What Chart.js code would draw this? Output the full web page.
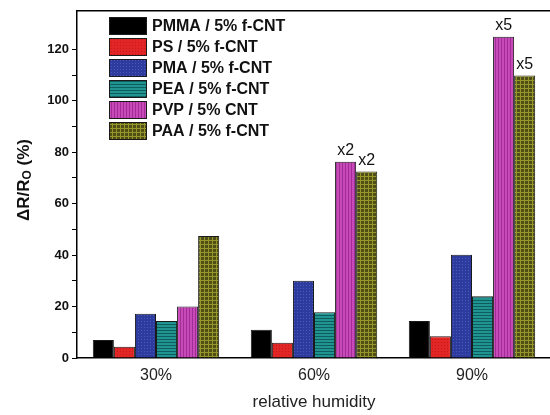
<!DOCTYPE html>
<html>
<head>
<meta charset="utf-8">
<script src="https://cdn.jsdelivr.net/npm/chart.js@4.4.0/dist/chart.umd.min.js"></script>
<style>
html,body{margin:0;padding:0;background:#fff;overflow:hidden;width:550px;height:415px;}
#chart{display:block;}
</style>
</head>
<body>
<canvas id="chart" width="560" height="415"></canvas>
<script>
var humidity = ['30%', '60%', '90%'];
var pmma = [7.0, 11.0, 14.4];
var ps = [4.4, 5.9, 8.5];
var pma = [17.2, 30.0, 40.1];
var pea = [14.4, 17.8, 24.0];
var pvp = [20.0, 76.3, 124.9];
var paa = [47.4, 72.5, 109.8];
var pvpFactor = ['', 'x2', 'x5'];
var paaFactor = ['', 'x2', 'x5'];
var seriesNames = ['PMMA / 5% f-CNT', 'PS / 5% f-CNT', 'PMA / 5% f-CNT', 'PEA / 5% f-CNT', 'PVP / 5% CNT', 'PAA / 5% f-CNT'];
var yLabels = [0, 20, 40, 60, 80, 100, 120];

var canvas = document.getElementById('chart');
var ctx = canvas.getContext('2d');

// small tiles to imitate the hatch fills of the original figure
function pattern(base, line, kind, size) {
    var c = document.createElement('canvas');
    c.width = size; c.height = size;
    var g = c.getContext('2d');
    g.fillStyle = base;
    g.fillRect(0, 0, size, size);
    g.fillStyle = line;
    if (kind == 'h' || kind == 'grid') g.fillRect(0, 0, size, 1);
    if (kind == 'v' || kind == 'grid') g.fillRect(0, 0, 1, size);
    if (kind == 'dot') g.fillRect(0, 0, 1, 1);
    return ctx.createPattern(c, 'repeat');
}

var fills = [
    '#000000',
    pattern('#e22626', '#c41a1a', 'dot', 3),
    pattern('#2d3b9e', '#4a5ab8', 'dot', 3),
    pattern('#1f9490', '#0f5e5e', 'h', 3),
    pattern('#c74ab8', '#a02e96', 'v', 3),
    pattern('#4e4e16', '#96962a', 'grid', 4)
];
var seriesData = [pmma, ps, pma, pea, pvp, paa];

var datasets = seriesData.map(function(d, i) {
    return {
        label: seriesNames[i],
        data: d,
        backgroundColor: fills[i],
        borderColor: '#1a1a1a',
        borderWidth: 1,
        categoryPercentage: 0.8,
        barPercentage: 1.0
    };
});

var font = "'Liberation Sans', Arial, sans-serif";

var framePlugin = {
    id: 'frame',
    afterDraw: function(chart) {
        var a = chart.chartArea, c = chart.ctx;
        c.save();
        c.strokeStyle = '#000';
        c.lineWidth = 1.5;
        c.beginPath();
        c.moveTo(a.left, a.top);
        c.lineTo(a.right, a.top);
        c.stroke();

        // legend inside the plot
        var bx = 109, by = 17, bw = 38, bh = 18, step = 21;
        c.font = 'bold 16px ' + font;
        c.textBaseline = 'middle';
        c.textAlign = 'left';
        chart.data.datasets.forEach(function(ds, i) {
            var y = by + i * step;
            c.fillStyle = ds.backgroundColor;
            c.fillRect(bx, y, bw, bh);
            c.lineWidth = 1;
            c.strokeStyle = '#1a1a1a';
            c.strokeRect(bx + 0.5, y + 0.5, bw - 1, bh - 1);
            c.fillStyle = '#111';
            c.fillText(ds.label, bx + bw + 5, y + bh / 2 + 1);
        });

        // factor labels above PVP and PAA bars
        c.font = '16px ' + font;
        c.textAlign = 'center';
        c.textBaseline = 'bottom';
        c.fillStyle = '#111';
        [[4, pvpFactor], [5, paaFactor]].forEach(function(p) {
            var meta = chart.getDatasetMeta(p[0]);
            meta.data.forEach(function(bar, j) {
                if (p[1][j]) c.fillText(p[1][j], bar.x, bar.y - 3);
            });
        });

        // y axis title with subscript
        c.save();
        c.translate(24, 180);
        c.rotate(-Math.PI / 2);
        c.fillStyle = '#111';
        c.textBaseline = 'middle';
        c.textAlign = 'left';
        var big = 'bold 17px ' + font, small = 'bold 12px ' + font;
        c.font = big; var w1 = c.measureText('\u0394R/R').width;
        c.font = small; var w2 = c.measureText('O').width;
        c.font = big; var w3 = c.measureText(' (%)').width;
        var x0 = -(w1 + w2 + w3) / 2;
        c.fillText('\u0394R/R', x0, 0);
        c.font = small; c.fillText('O', x0 + w1, 4);
        c.font = big; c.fillText(' (%)', x0 + w1 + w2, 0);
        c.restore();
        c.restore();
    }
};

new Chart(ctx, {
    type: 'bar',
    data: { labels: humidity, datasets: datasets },
    options: {
        responsive: false,
        animation: false,
        layout: { padding: { top: 7, right: 9, left: 0, bottom: 2 } },
        plugins: { legend: { display: false }, tooltip: { enabled: false } },
        scales: {
            x: {
                grid: { display: false, drawTicks: false },
                border: { display: true, color: '#000', width: 1.5 },
                ticks: { color: '#222', font: { family: font, size: 16 }, padding: 8 },
                title: { display: true, text: 'relative humidity', color: '#222', font: { family: font, size: 17 }, padding: 0 },
                afterFit: function(s) { s.height = 55; }
            },
            y: {
                min: 0,
                max: 135,
                ticks: {
                    stepSize: 10,
                    color: '#111',
                    font: { family: font, size: 13, weight: 'bold' },
                    padding: 3,
                    callback: function(v) { return yLabels.indexOf(v) >= 0 ? String(v) : ''; }
                },
                afterBuildTicks: function(s) {
                    s.ticks = s.ticks.filter(function(t) { return t.value % 10 === 0; });
                },
                grid: { drawOnChartArea: false, tickLength: 5, color: '#000', lineWidth: 1 },
                border: { display: true, color: '#000', width: 1.5 },
                afterFit: function(s) { s.width = 77; }
            }
        }
    },
    plugins: [framePlugin]
});
</script>
</body>
</html>
